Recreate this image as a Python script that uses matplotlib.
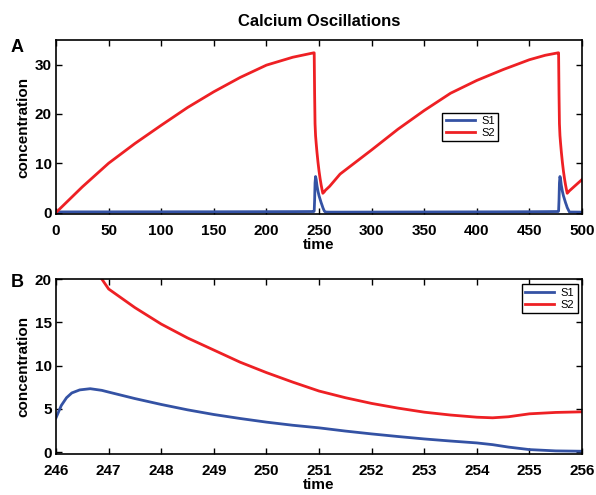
import matplotlib
matplotlib.use("Agg")
import matplotlib.pyplot as plt

plt.rcParams['font.family'] = ['Liberation Sans', 'DejaVu Sans']

BLUE = '#3452a4'
RED = '#ee2024'

# panel A: full run
t_a = [0, 25, 50, 75, 100, 125, 150, 175, 200, 225, 245.0,
       245.4, 245.8, 246.2, 246.7, 247.3, 248, 249, 250, 251, 252,
       253, 253.6, 255, 256, 260, 270, 300, 325, 350, 375, 400, 425, 450,
       465, 477.3, 477.7, 478.1, 478.5, 479.0, 479.6, 480.3, 481.3, 482.3, 483.3,
       484.3, 485.3, 485.9, 488, 500]
s2_a = [0, 5.2, 10.0, 14.0, 17.7, 21.3, 24.5, 27.4, 29.9, 31.5, 32.4,
        32.4, 24.0, 18.0, 15.6, 14.0, 12.3, 10.2, 8.4, 6.9, 5.6,
        4.5, 3.9, 4.2, 4.5, 5.3, 7.8, 12.7, 16.9, 20.7, 24.2, 26.8, 29.0, 31.0,
        31.9, 32.4, 32.4, 24.0, 18.0, 15.6, 14.0, 12.3, 10.2, 8.4, 6.9,
        5.6, 4.5, 3.9, 4.4, 6.7]
s1_a = [0.12, 0.13, 0.13, 0.14, 0.14, 0.15, 0.15, 0.16, 0.17, 0.18, 0.2,
        0.3, 2.5, 6.0, 7.3, 6.7, 5.5, 4.3, 3.4, 2.7, 2.0,
        1.4, 1.0, 0.3, 0.1, 0.08, 0.08, 0.09, 0.1, 0.11, 0.12, 0.13, 0.14, 0.16,
        0.18, 0.2, 0.3, 2.5, 6.0, 7.3, 6.7, 5.5, 4.3, 3.4, 2.7,
        2.0, 1.4, 1.0, 0.1, 0.08]

# panel B: zoom on the first spike
t_b = [246.0, 246.1, 246.2, 246.3, 246.45, 246.65, 246.87, 247, 247.5, 248,
       248.5, 249, 249.5, 250, 250.5, 251, 251.5, 252, 252.5, 253, 253.5,
       254, 254.3, 254.6, 255, 255.5, 256]
s1_b = [3.98, 5.4, 6.3, 6.85, 7.2, 7.34, 7.15, 6.95, 6.2, 5.52, 4.9, 4.36,
        3.9, 3.48, 3.12, 2.82, 2.45, 2.12, 1.82, 1.54, 1.3, 1.08, 0.88, 0.6,
        0.31, 0.16, 0.12]
s2_b = [None, None, None, None, None, None, 20.0, 18.85, 16.7, 14.8, 13.2,
        11.8, 10.4, 9.2, 8.1, 7.07, 6.3, 5.64, 5.1, 4.63, 4.3, 4.05, 3.98,
        4.1, 4.44, 4.6, 4.67]

fig = plt.figure(figsize=(5.96, 4.95), dpi=100)
ax1 = fig.add_axes([0.094, 0.5677, 0.8826, 0.3515])
ax2 = fig.add_axes([0.094, 0.0828, 0.8826, 0.3535])


def style(ax):
    ax.tick_params(direction='in', top=True, right=True, length=4.5, width=1,
                   labelsize=11, pad=3)
    ax.tick_params(axis='x', pad=7)
    for lab in ax.get_xticklabels() + ax.get_yticklabels():
        lab.set_fontweight('bold')
    for sp in ax.spines.values():
        sp.set_linewidth(1.2)
    ax.set_xlabel('time', fontsize=11, fontweight='bold', labelpad=0)
    ax.set_ylabel('concentration', fontsize=11, fontweight='bold', labelpad=3)


ax1.plot(t_a, s1_a, color=BLUE, lw=2, label='S1')
ax1.plot(t_a, s2_a, color=RED, lw=2, label='S2')
ax1.set_xlim(0, 500)
ax1.set_ylim(-0.3, 35)
ax1.set_xticks(range(0, 501, 50))
ax1.set_yticks([0, 10, 20, 30])
style(ax1)
leg1 = ax1.legend(loc='upper left', bbox_to_anchor=(0.724, 0.615), fontsize=8,
                  fancybox=False, edgecolor='black', framealpha=1,
                  handlelength=2.6, borderpad=0.3, labelspacing=0.2,
                  handletextpad=0.6)
leg1.get_frame().set_linewidth(1)
ax1.set_title('Calcium Oscillations', fontsize=12, fontweight='bold', pad=10)

tb1 = [t for t, v in zip(t_b, s2_b) if v is not None]
vb2 = [v for v in s2_b if v is not None]
ax2.plot(t_b, s1_b, color=BLUE, lw=2, label='S1')
ax2.plot(tb1, vb2, color=RED, lw=2, label='S2')
ax2.set_xlim(246, 256)
ax2.set_ylim(-0.2, 20)
ax2.set_xticks(range(246, 257))
ax2.set_yticks([0, 5, 10, 15, 20])
style(ax2)
leg2 = ax2.legend(loc='upper right', bbox_to_anchor=(0.992, 0.97), fontsize=8,
                  fancybox=False, edgecolor='black', framealpha=1,
                  handlelength=2.6, borderpad=0.3, labelspacing=0.2,
                  handletextpad=0.6, borderaxespad=0)
leg2.get_frame().set_linewidth(1)

fig.text(0.018, 0.895, 'A', fontsize=13, fontweight='bold')
fig.text(0.018, 0.42, 'B', fontsize=13, fontweight='bold')

fig.savefig('out.png', dpi=100)
